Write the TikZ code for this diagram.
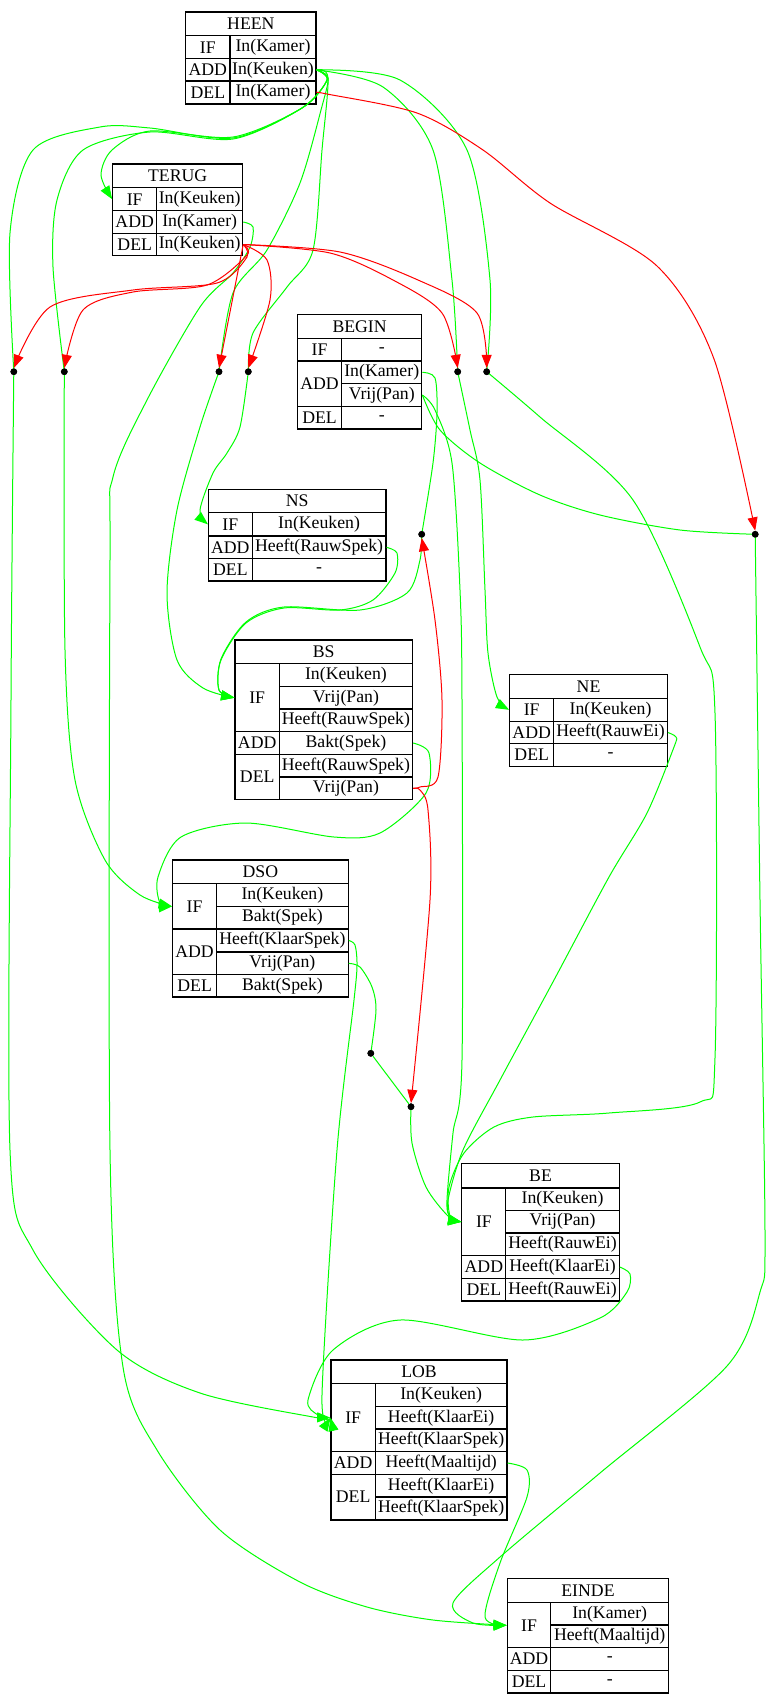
\documentclass[tikz,border=0pt]{standalone}
\usepackage{fontspec}
\setmainfont{Liberation Serif}
\usepackage{tikz}
\usetikzlibrary{arrows.meta}
\definecolor{linkgreen}{RGB}{0,255,0}
\definecolor{threatred}{RGB}{255,0,0}
\newcommand{\cellfont}{\fontsize{13.3}{15}\selectfont}
% one cell of an operator table: name, x0, y0, x1, y1, text
\newcommand{\tcell}[6]{\node[cell, minimum width={(#4-(#2))*0.75pt}, minimum height={(#5-(#3))*0.75pt}] (#1) at ({(#2+#4)/2},{(#3+#5)/2}) {#6};}
\tikzset{
  cell/.style={draw=black, line width=0.8pt, inner sep=0pt, font=\cellfont},
  dot/.style={circle, fill=black, inner sep=0pt, minimum size=5pt},
  causal/.style={draw=linkgreen, line width=0.75pt},
  threat/.style={draw=threatred, line width=0.75pt, -{Triangle[length=10pt,width=7.5pt]}},
  tip/.style={-{Triangle[length=10pt,width=7.5pt]}}
}

\begin{document}
\begin{tikzpicture}[x=0.75pt, y=-0.75pt]
\useasboundingbox (0,0) rectangle (771,1704);

% HEEN
\tcell{heen}{185.7}{12}{316}{35.7}{HEEN}
\tcell{heenifl}{185.7}{35.7}{230}{58.7}{IF}
\tcell{heenif}{230}{35.7}{316}{58.7}{In(Kamer)}
\tcell{heenaddl}{185.7}{58.7}{230}{81}{ADD}
\tcell{heenadd}{230}{58.7}{316}{81}{In(Keuken)}
\tcell{heendell}{185.7}{81}{230}{104}{DEL}
\tcell{heendel}{230}{81}{316}{104}{In(Kamer)}
% TERUG
\tcell{terug}{112.7}{164}{242.7}{187.7}{TERUG}
\tcell{terugifl}{112.7}{187.7}{156.7}{210.7}{IF}
\tcell{terugif}{156.7}{187.7}{242.7}{210.7}{In(Keuken)}
\tcell{terugaddl}{112.7}{210.7}{156.7}{233.3}{ADD}
\tcell{terugadd}{156.7}{210.7}{242.7}{233.3}{In(Kamer)}
\tcell{terugdell}{112.7}{233.3}{156.7}{255.7}{DEL}
\tcell{terugdel}{156.7}{233.3}{242.7}{255.7}{In(Keuken)}
% BEGIN
\tcell{begin}{297.4}{314.3}{421.8}{338.7}{BEGIN}
\tcell{beginifl}{297.4}{338.7}{341.7}{361}{IF}
\tcell{beginif}{341.7}{338.7}{421.8}{361}{-}
\tcell{beginaddl}{297.4}{361}{341.7}{406.3}{ADD}
\tcell{beginaddk}{341.7}{361}{421.8}{383.7}{In(Kamer)}
\tcell{beginaddv}{341.7}{383.7}{421.8}{406.3}{Vrij(Pan)}
\tcell{begindell}{297.4}{406.3}{341.7}{429}{DEL}
\tcell{begindel}{341.7}{406.3}{421.8}{429}{-}
% NS
\tcell{ns}{208.5}{489.3}{386}{512.7}{NS}
\tcell{nsifl}{208.5}{512.7}{252.2}{536}{IF}
\tcell{nsif}{252.2}{512.7}{386}{536}{In(Keuken)}
\tcell{nsaddl}{208.5}{536}{252.2}{558.7}{ADD}
\tcell{nsadd}{252.2}{536}{386}{558.7}{Heeft(RauwSpek)}
\tcell{nsdell}{208.5}{558.7}{252.2}{581}{DEL}
\tcell{nsdel}{252.2}{558.7}{386}{581}{-}
% BS
\tcell{bs}{235}{640}{412.5}{663.7}{BS}
\tcell{bsifl}{235}{663.7}{279.4}{731.7}{IF}
\tcell{bsifk}{279.4}{663.7}{412.5}{686.7}{In(Keuken)}
\tcell{bsifv}{279.4}{686.7}{412.5}{709}{Vrij(Pan)}
\tcell{bsifh}{279.4}{709}{412.5}{731.7}{Heeft(RauwSpek)}
\tcell{bsaddl}{235}{731.7}{279.4}{754.3}{ADD}
\tcell{bsadd}{279.4}{731.7}{412.5}{754.3}{Bakt(Spek)}
\tcell{bsdell}{235}{754.3}{279.4}{799.7}{DEL}
\tcell{bsdelh}{279.4}{754.3}{412.5}{777}{Heeft(RauwSpek)}
\tcell{bsdelv}{279.4}{777}{412.5}{799.7}{Vrij(Pan)}
% NE
\tcell{ne}{509.7}{674.7}{667.4}{698.3}{NE}
\tcell{neifl}{509.7}{698.3}{553.7}{721.3}{IF}
\tcell{neif}{553.7}{698.3}{667.4}{721.3}{In(Keuken)}
\tcell{neaddl}{509.7}{721.3}{553.7}{743.7}{ADD}
\tcell{neadd}{553.7}{721.3}{667.4}{743.7}{Heeft(RauwEi)}
\tcell{nedell}{509.7}{743.7}{553.7}{766.3}{DEL}
\tcell{nedel}{553.7}{743.7}{667.4}{766.3}{-}
% DSO
\tcell{dso}{172.6}{860}{348.2}{883.7}{DSO}
\tcell{dsoifl}{172.6}{883.7}{216.6}{929}{IF}
\tcell{dsoifk}{216.6}{883.7}{348.2}{906.3}{In(Keuken)}
\tcell{dsoifb}{216.6}{906.3}{348.2}{929}{Bakt(Spek)}
\tcell{dsoaddl}{172.6}{929}{216.6}{974.7}{ADD}
\tcell{dsoaddh}{216.6}{929}{348.2}{952}{Heeft(KlaarSpek)}
\tcell{dsoaddv}{216.6}{952}{348.2}{974.7}{Vrij(Pan)}
\tcell{dsodell}{172.6}{974.7}{216.6}{997}{DEL}
\tcell{dsodel}{216.6}{974.7}{348.2}{997}{Bakt(Spek)}
% BE
\tcell{be}{461.9}{1163.7}{619.2}{1188}{BE}
\tcell{beifl}{461.9}{1188}{505.9}{1255.7}{IF}
\tcell{beifk}{505.9}{1188}{619.2}{1210.3}{In(Keuken)}
\tcell{beifv}{505.9}{1210.3}{619.2}{1233}{Vrij(Pan)}
\tcell{beifh}{505.9}{1233}{619.2}{1255.7}{Heeft(RauwEi)}
\tcell{beaddl}{461.9}{1255.7}{505.9}{1278.3}{ADD}
\tcell{beadd}{505.9}{1255.7}{619.2}{1278.3}{Heeft(KlaarEi)}
\tcell{bedell}{461.9}{1278.3}{505.9}{1301}{DEL}
\tcell{bedel}{505.9}{1278.3}{619.2}{1301}{Heeft(RauwEi)}
% LOB
\tcell{lob}{331}{1360}{507}{1383.7}{LOB}
\tcell{lobifl}{331}{1383.7}{375.3}{1451.7}{IF}
\tcell{lobifk}{375.3}{1383.7}{507}{1406.3}{In(Keuken)}
\tcell{lobife}{375.3}{1406.3}{507}{1429}{Heeft(KlaarEi)}
\tcell{lobifs}{375.3}{1429}{507}{1451.7}{Heeft(KlaarSpek)}
\tcell{lobaddl}{331}{1451.7}{375.3}{1474.3}{ADD}
\tcell{lobadd}{375.3}{1451.7}{507}{1474.3}{Heeft(Maaltijd)}
\tcell{lobdell}{331}{1474.3}{375.3}{1520}{DEL}
\tcell{lobdele}{375.3}{1474.3}{507}{1497}{Heeft(KlaarEi)}
\tcell{lobdels}{375.3}{1497}{507}{1520}{Heeft(KlaarSpek)}
% EINDE
\tcell{einde}{507.3}{1578.7}{668.7}{1602.7}{EINDE}
\tcell{eindeifl}{507.3}{1602.7}{550.7}{1647.7}{IF}
\tcell{eindeifk}{550.7}{1602.7}{668.7}{1625}{In(Kamer)}
\tcell{eindeifm}{550.7}{1625}{668.7}{1647.7}{Heeft(Maaltijd)}
\tcell{eindeaddl}{507.3}{1647.7}{550.7}{1670.3}{ADD}
\tcell{eindeadd}{550.7}{1647.7}{668.7}{1670.3}{-}
\tcell{eindedell}{507.3}{1670.3}{550.7}{1693}{DEL}
\tcell{eindedel}{550.7}{1670.3}{668.7}{1693}{-}

% link points
\foreach \n/\x/\y in {d1/13.8/371.7, d2/64.3/371.7, d3/219/371.7, d4/248.3/371.7,
  d5/457.7/371.7, d6/486.7/371.7, d7/421.7/534.3, d8/755.2/534.3,
  d9/370.8/1053.3, d10/411/1106.7}
  \node[dot] (\n) at (\x,\y) {};

% causal links
\draw[causal,tip] plot[smooth] coordinates {(heenadd.east) (327,80) (302,108) (233,137) (150,131) (112,150) (101,175) (terugifl.west)};
\draw[causal] plot[smooth] coordinates {(heenadd.east) (327,80) (302,108) (233,138) (150,128) (100,127) (33,150) (10,233) (d1)};
\draw[causal] plot[smooth] coordinates {(heenadd.east) (327,80) (302,108) (233,139) (150,132) (83,150) (57,200) (53,267) (d2)};
\draw[causal] plot[smooth] coordinates {(heenadd.east) (328,78) (321,110) (300,183) (267,250) (233,293) (d3)};
\draw[causal] plot[smooth] coordinates {(heenadd.east) (328,78) (322,150) (313,250) (287,287) (253,333) (d4)};
\draw[causal] plot[smooth] coordinates {(heenadd.east) (383,87) (433,150) (452,280) (d5)};
\draw[causal] plot[smooth] coordinates {(heenadd.east) (400,80) (467,150) (490,280) (d6)};
\draw[causal,tip] plot[smooth] coordinates {(terugadd.east) (253,227) (250,247) (233,273) (200,307) (147,400) (113,477) (110,560) (110,1150) (123,1367) (157,1450) (220,1530) (300,1582) (367,1607) (433,1620) (eindeifl.west)};
\draw[causal,tip] plot[smooth] coordinates {(d1) (11,700) (10,1150) (33,1250) (117,1350) (200,1393) (313,1417) (lobifl.west)};
\draw[causal,tip] plot[smooth] coordinates {(d2) (65,650) (75,780) (105,860) (140,895) (dsoifl.west)};
\draw[causal,tip] plot[smooth] coordinates {(d3) (200,427) (177,510) (167,593) (177,660) (203,688) (bsifl.west)};
\draw[causal,tip] plot[smooth] coordinates {(d4) (240,427) (227,453) (213,473) (200,510) (nsifl.west)};
\draw[causal,tip] plot[smooth] coordinates {(d5) (470,430) (480,480) (485,590) (488,653) (497,697) (neifl.west)};
\draw[causal,tip] plot[smooth] coordinates {(d6) (540,417) (633,500) (700,647) (715,713) (715,1058) (700,1102) (609,1113) (533,1117) (494,1127) (464,1153) (449,1187) (450,1216) (beifl.west)};
\draw[causal,tip] plot[smooth] coordinates {(nsadd.east) (397,553) (395,573) (373,600) (340,610) (284,608) (246,623) (221,660) (219,690) (bsifl.west)};
\draw[causal,tip] plot[smooth] coordinates {(d7) (420,560) (407,593) (360,610) (284,607) (246,622) (221,659) (219,690) (bsifl.west)};
\draw[causal] plot[smooth] coordinates {(beginaddk.east) (435,378) (437,413) (433,463) (d7)};
\draw[causal,tip] plot[smooth] coordinates {(beginaddv.east) (435,410) (452,463) (460,590) (462,700) (462,1060) (453,1133) (447,1200) (450,1217) (beifl.west)};
\draw[causal] plot[smooth] coordinates {(beginaddv.east) (440,430) (480,463) (540,495) (600,515) (680,530) (d8)};
\draw[causal,tip] plot[smooth] coordinates {(d8) (760,900) (765,1234) (760,1292) (727,1366) (600,1473) (500,1557) (453,1603) (473,1623) (eindeifl.west)};
\draw[causal,tip] plot[smooth] coordinates {(neadd.east) (676,737) (674,747) (647,813) (609,877) (554,980) (500,1080) (463,1150) (448,1200) (450,1217) (beifl.west)};
\draw[causal,tip] plot[smooth] coordinates {(d10) (412,1143) (426,1187) (448,1216) (beifl.west)};
\draw[causal] plot[smooth] coordinates {(dsoaddv.east) (360,967) (372,987) (376,1010) (d9)};
\draw[causal] (d9) -- (d10);
\draw[causal,tip] plot[smooth] coordinates {(dsoaddh.east) (355,945) (357,965) (354,1000) (337,1150) (322,1395) (lobifl.west)};
\draw[causal,tip] plot[smooth] coordinates {(bsadd.east) (429,753) (426,793) (380,833) (334,837) (246,823) (181,837) (158,877) (160,903) (dsoifl.west)};
\draw[causal,tip] plot[smooth] coordinates {(beadd.east) (630,1274) (627,1292) (600,1318) (523,1340) (400,1320) (333,1350) (308,1400) (318,1415) (lobifl.west)};
\draw[causal,tip] plot[smooth] coordinates {(lobadd.east) (527,1470) (527,1497) (500,1563) (485,1617) (eindeifl.west)};

% threats
\draw[threat] plot[smooth] coordinates {(terugdel.east) (247,257) (217,283) (133,290) (50,307) (d1.north)};
\draw[threat] plot[smooth] coordinates {(terugdel.east) (247,255) (207,285) (133,292) (83,310) (d2.north)};
\draw[threat] (terugdel.east) -- (d3.north);
\draw[threat] plot[smooth] coordinates {(terugdel.east) (267,260) (270,300) (d4.north)};
\draw[threat] plot[smooth] coordinates {(terugdel.east) (330,253) (393,280) (442,313) (d5.north)};
\draw[threat] plot[smooth] coordinates {(terugdel.east) (340,252) (418,280) (477,313) (d6.north)};
\draw[threat] plot[smooth] coordinates {(heendel.east) (327,94) (417,113) (483,150) (550,203) (657,266) (714,359) (d8.north)};
\draw[threat] plot[smooth] coordinates {(bsdelv.east) (420,787) (438,777) (442,700) (435,620) (d7.south)};
\draw[threat] plot[smooth] coordinates {(bsdelv.east) (420,790) (428,810) (430,900) (d10.north)};

% dots back on top of the lines
\foreach \n in {d1,d2,d3,d4,d5,d6,d7,d8,d9,d10}
  \fill (\n) circle (2.5pt);
\end{tikzpicture}
\end{document}
